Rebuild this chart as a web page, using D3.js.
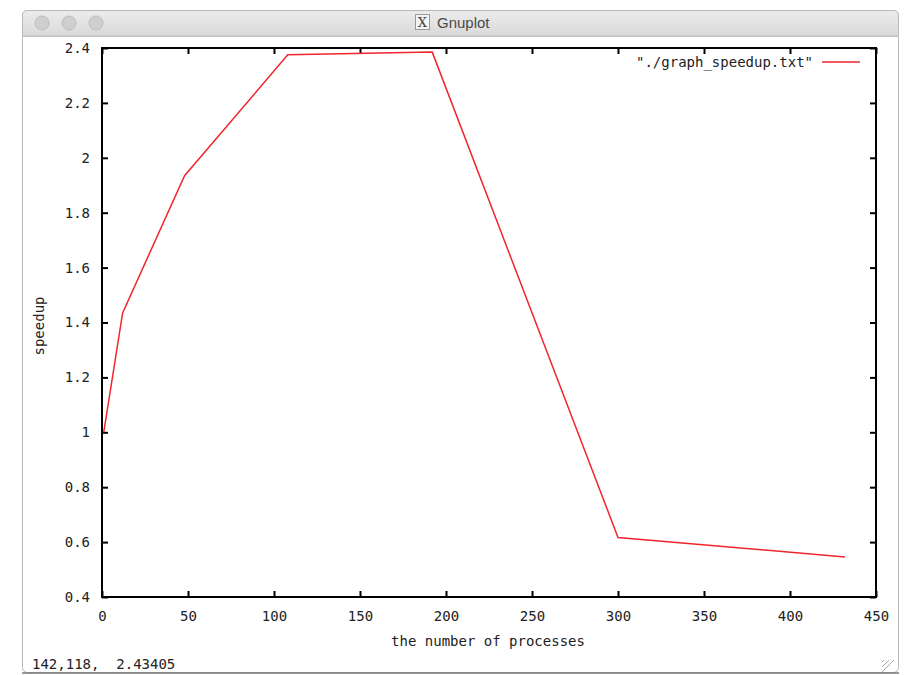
<!DOCTYPE html>
<html>
<head>
<meta charset="utf-8">
<script src="https://cdn.jsdelivr.net/npm/d3@7"></script>
<style>
  body { margin: 0; background: #fff; }
  svg text { font-family: "DejaVu Sans Mono", "Liberation Mono", monospace; white-space: pre; }
</style>
</head>
<body>
<script>
// data: number of processes vs speedup
const processes = [1, 12, 48, 108, 192, 300, 432];
const speedup = [1.0, 1.435, 1.935, 2.375, 2.385, 0.617, 0.546];
const xTicks = [0, 50, 100, 150, 200, 250, 300, 350, 400, 450];
const yTicks = [0.4, 0.6, 0.8, 1, 1.2, 1.4, 1.6, 1.8, 2, 2.2, 2.4];

const width = 906, height = 675;
const plot = { left: 102, right: 876, top: 48, bottom: 597 };

const svg = d3.select('body').append('svg')
  .attr('width', width)
  .attr('height', height);

// window chrome
const grad = svg.append('defs').append('linearGradient')
  .attr('id', 'bar').attr('x1', 0).attr('x2', 0).attr('y1', 0).attr('y2', 1);
grad.append('stop').attr('offset', 0).attr('stop-color', '#ececec');
grad.append('stop').attr('offset', 1).attr('stop-color', '#d9d9d9');

svg.append('rect')
  .attr('x', 22.5).attr('y', 10.5).attr('width', 876).attr('height', 662)
  .attr('rx', 5)
  .attr('fill', '#fff').attr('stroke', '#b8b8b8');
svg.append('line')
  .attr('x1', 22).attr('x2', 899).attr('y1', 673).attr('y2', 673)
  .attr('stroke', '#777').attr('stroke-width', 1.5);
svg.append('path')
  .attr('d', 'M22.5,36 V15.5 Q22.5,10.5 27.5,10.5 H893.5 Q898.5,10.5 898.5,15.5 V36 Z')
  .attr('fill', 'url(#bar)').attr('stroke', '#b8b8b8');
svg.append('line')
  .attr('x1', 22).attr('x2', 899).attr('y1', 36.5).attr('y2', 36.5)
  .attr('stroke', '#c4c4c4');

svg.selectAll('circle.light')
  .data([42, 69, 96])
  .enter().append('circle')
  .attr('class', 'light')
  .attr('cx', d => d).attr('cy', 23).attr('r', 7)
  .attr('fill', '#cfcfcf').attr('stroke', '#bdbdbd');

svg.append('rect')
  .attr('x', 415.5).attr('y', 14.5).attr('width', 14).attr('height', 15)
  .attr('fill', '#f4f4f4').attr('stroke', '#9a9a9a');
svg.append('text')
  .attr('x', 422.5).attr('y', 27)
  .attr('text-anchor', 'middle')
  .style('font-family', 'DejaVu Serif')
  .style('font-size', '13px')
  .attr('fill', '#444')
  .text('X');
svg.append('text')
  .attr('x', 437).attr('y', 28)
  .style('font-family', '"Liberation Sans", Arial')
  .style('font-size', '15px')
  .attr('fill', '#4a4a4a')
  .text('Gnuplot');

// scales
const x = d3.scaleLinear().domain([0, 450]).range([plot.left, plot.right]);
const y = d3.scaleLinear().domain([0.4, 2.4]).range([plot.bottom, plot.top]);

const fontSize = '14px';

// axes with inward ticks, mirrored on top/right
const g = svg.append('g');
const bottomAxis = d3.axisBottom(x).tickValues(xTicks).tickSize(-6).tickPadding(14).tickSizeOuter(0);
const leftAxis = d3.axisLeft(y).tickValues(yTicks).tickSize(-6).tickPadding(12).tickSizeOuter(0)
  .tickFormat(d => String(d));
const topAxis = d3.axisTop(x).tickValues(xTicks).tickSize(-6).tickFormat('').tickSizeOuter(0);
const rightAxis = d3.axisRight(y).tickValues(yTicks).tickSize(-6).tickFormat('').tickSizeOuter(0);

g.append('g').attr('transform', `translate(0,${plot.bottom})`).call(bottomAxis);
g.append('g').attr('transform', `translate(${plot.left},0)`).call(leftAxis);
g.append('g').attr('transform', `translate(0,${plot.top})`).call(topAxis);
g.append('g').attr('transform', `translate(${plot.right},0)`).call(rightAxis);

g.selectAll('.domain').remove();
g.selectAll('.tick line').attr('stroke', '#000').attr('stroke-width', 2);
g.selectAll('.tick text')
  .style('font-size', fontSize)
  .style('font-family', '"DejaVu Sans Mono", monospace')
  .attr('fill', '#222');

svg.append('rect')
  .attr('x', plot.left).attr('y', plot.top)
  .attr('width', plot.right - plot.left).attr('height', plot.bottom - plot.top)
  .attr('fill', 'none').attr('stroke', '#000').attr('stroke-width', 2);

// data line
const line = d3.line()
  .x((d, i) => x(processes[i]))
  .y(d => y(d));

svg.append('path')
  .datum(speedup)
  .attr('d', line)
  .attr('fill', 'none')
  .attr('stroke', '#f0262c')
  .attr('stroke-width', 1.5);

// legend
svg.append('text')
  .attr('x', 813).attr('y', 67)
  .attr('text-anchor', 'end')
  .style('font-size', fontSize)
  .attr('fill', '#222')
  .text('"./graph_speedup.txt"');
svg.append('line')
  .attr('x1', 822).attr('x2', 860).attr('y1', 62).attr('y2', 62)
  .attr('stroke', '#f0262c').attr('stroke-width', 1.5);

// axis labels
svg.append('text')
  .attr('x', 488).attr('y', 646)
  .attr('text-anchor', 'middle')
  .style('font-size', fontSize)
  .attr('fill', '#222')
  .text('the number of processes');
svg.append('text')
  .attr('transform', 'translate(44,326) rotate(-90)')
  .attr('text-anchor', 'middle')
  .style('font-size', fontSize)
  .attr('fill', '#222')
  .text('speedup');

// status line
svg.append('text')
  .attr('x', 32).attr('y', 669)
  .style('font-size', fontSize)
  .attr('fill', '#222')
  .text('142,118,  2.43405');

// resize grip
svg.selectAll('line.grip')
  .data([0, 5, 10])
  .enter().append('line')
  .attr('class', 'grip')
  .attr('x1', d => 894 - d).attr('y1', 660)
  .attr('x2', 882).attr('y2', d => 672 - d)
  .attr('stroke', '#a8a8a8');
</script>
</body>
</html>
